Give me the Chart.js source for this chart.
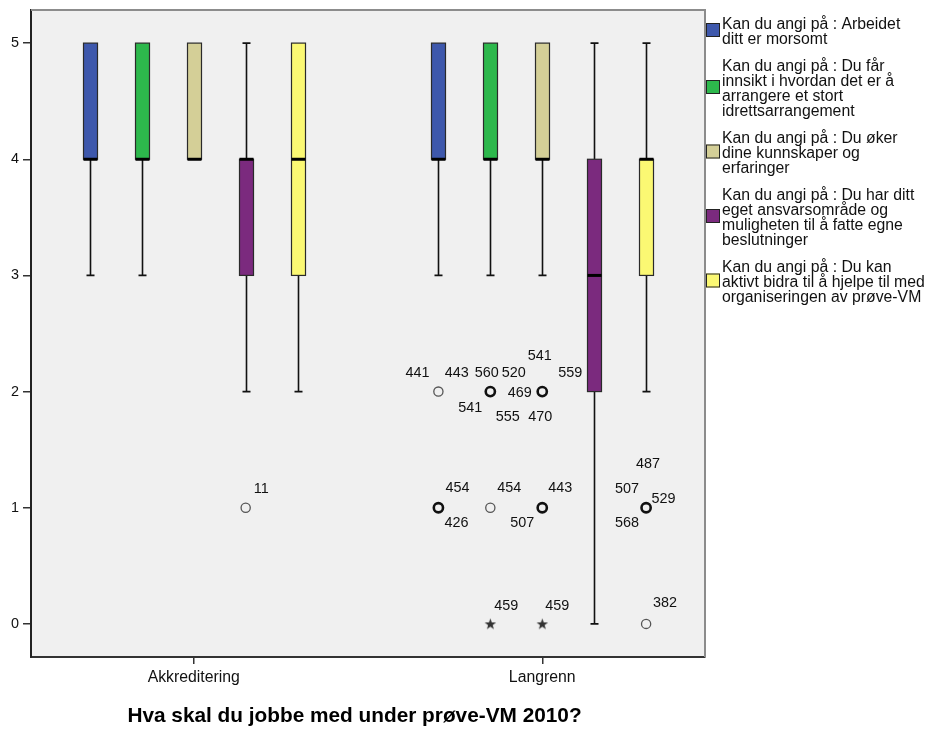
<!DOCTYPE html>
<html><head><meta charset="utf-8">
<script src="https://cdn.jsdelivr.net/npm/chart.js@4/dist/chart.umd.min.js"></script>
<style>html,body{margin:0;padding:0;background:#fff;} #wrap{position:relative;width:931px;height:729px;}</style>
</head><body><div id="wrap"><canvas id="c" width="931" height="729"></canvas></div>
<script>
// ---------- data ----------
const categories = ['Akkreditering', 'Langrenn'];
const yTicks = [0, 1, 2, 3, 4, 5];
const chartTitle = 'Hva skal du jobbe med under prøve-VM 2010?';
const seriesNames = [
  ['Kan du angi på : Arbeidet', 'ditt er morsomt'],
  ['Kan du angi på : Du får', 'innsikt i hvordan det er å', 'arrangere et stort', 'idrettsarrangement'],
  ['Kan du angi på : Du øker', 'dine kunnskaper og', 'erfaringer'],
  ['Kan du angi på : Du har ditt', 'eget ansvarsområde og', 'muligheten til å fatte egne', 'beslutninger'],
  ['Kan du angi på : Du kan', 'aktivt bidra til å hjelpe til med', 'organiseringen av prøve-VM']
];
// five-number summaries [min, q1, median, q3, max] per category
const arbeidet   = [[3, 4, 4, 5, 5], [3, 4, 4, 5, 5]];
const innsikt    = [[3, 4, 4, 5, 5], [3, 4, 4, 5, 5]];
const kunnskaper = [[4, 4, 4, 5, 5], [3, 4, 4, 5, 5]];
const ansvar     = [[2, 3, 4, 4, 5], [0, 2, 3, 4, 5]];
const bidra      = [[2, 3, 4, 5, 5], [2, 3, 4, 4, 5]];
// outliers: [category index, value, case numbers, extreme]
const arbeidetOut   = [[1, 2, ['441'], false], [1, 1, ['454', '426'], false]];
const innsiktOut    = [[1, 2, ['443', '560', '520', '541', '555'], false], [1, 1, ['454'], false], [1, 0, ['459'], true]];
const kunnskaperOut = [[1, 2, ['541', '559', '469', '470'], false], [1, 1, ['443', '507'], false], [1, 0, ['459'], true]];
const ansvarOut     = [[0, 1, ['11'], false]];
const bidraOut      = [[1, 1, ['487', '507', '529', '568'], false], [1, 0, ['382'], false]];

// ---------- style / layout ----------
const stats = [arbeidet, innsikt, kunnskaper, ansvar, bidra];
const outs = [arbeidetOut, innsiktOut, kunnskaperOut, ansvarOut, bidraOut];
const colors = ['#3e58ac', '#2db84c', '#d4cf97', '#7b2a7e', '#fbf873'];
const groupStep = 0.149;
const offsetOf = si => (si - 2) * groupStep;
// label placement (pixel offsets of label centre from point)
const labelOffsets = [
  [[[-21, -19]], [[19, -20], [18, 15]]],
  [[[-33.5, -19], [-3.5, -19], [23.5, -19], [-20, 16], [17.5, 25]], [[19, -20]], [[16, -18]]],
  [[[-2.5, -36], [28, -19], [-22.5, 1], [-2, 25]], [[18, -20], [-20, 15]], [[15, -18]]],
  [[[15.5, -19]]],
  [[[2, -44], [-19, -19], [17.5, -9], [-19, 15]], [[19, -21]]]
];
const FONT = '"Liberation Sans", Arial, sans-serif';

const starImg = document.createElement('canvas');
starImg.width = 13; starImg.height = 13;
(function(){
  const g = starImg.getContext('2d');
  g.fillStyle = '#333';
  g.beginPath();
  for (let k = 0; k < 10; k++) {
    const r = k % 2 === 0 ? 6 : 2.4;
    const a = -Math.PI / 2 + k * Math.PI / 5;
    const px = 6.5 + r * Math.cos(a), py = 6.9 + r * Math.sin(a);
    k === 0 ? g.moveTo(px, py) : g.lineTo(px, py);
  }
  g.closePath(); g.fill();
})();

const datasets = outs.map((o, si) => ({
  label: seriesNames[si].join(' '),
  data: o.map(p => ({ x: p[0] + 1 + offsetOf(si), y: p[1] })),
  pointStyle: c => o[c.dataIndex][3] ? starImg : 'circle',
  pointRadius: 4.6,
  pointBorderWidth: c => o[c.dataIndex][2].length > 1 ? 2.6 : 1.3,
  pointBorderColor: c => o[c.dataIndex][2].length > 1 ? '#111' : '#555',
  pointBackgroundColor: 'rgba(0,0,0,0)',
  showLine: false
}));

const boxPlugin = {
  id: 'boxes',
  beforeDraw(chart) {
    const { ctx, chartArea: a } = chart;
    ctx.save();
    ctx.fillStyle = '#f0f0f0';
    ctx.fillRect(a.left, a.top, a.right - a.left, a.bottom - a.top);
    ctx.restore();
  },
  beforeDatasetsDraw(chart) {
    const { ctx } = chart, xs = chart.scales.x, ys = chart.scales.y;
    ctx.save();
    stats.forEach((s, si) => s.forEach((v, ci) => {
      const cx = Math.round(xs.getPixelForValue(ci + 1 + offsetOf(si))) + 0.5;
      const [mn, q1, md, q3, mx] = v.map(t => ys.getPixelForValue(t));
      const hw = 7, cw = 4;
      ctx.strokeStyle = '#111'; ctx.lineWidth = 1.6;
      ctx.beginPath();
      if (mx < q3 - 0.5) { ctx.moveTo(cx, q3); ctx.lineTo(cx, mx); ctx.moveTo(cx - cw, mx); ctx.lineTo(cx + cw, mx); }
      if (mn > q1 + 0.5) { ctx.moveTo(cx, q1); ctx.lineTo(cx, mn); ctx.moveTo(cx - cw, mn); ctx.lineTo(cx + cw, mn); }
      ctx.stroke();
      ctx.fillStyle = colors[si];
      ctx.fillRect(cx - hw, q3, 2 * hw, q1 - q3);
      ctx.strokeStyle = '#2a2a2a'; ctx.lineWidth = 1.2;
      ctx.strokeRect(cx - hw, q3, 2 * hw, q1 - q3);
      ctx.strokeStyle = '#000'; ctx.lineWidth = 3;
      ctx.beginPath(); ctx.moveTo(cx - hw, md); ctx.lineTo(cx + hw, md); ctx.stroke();
    }));
    ctx.restore();
  },
  afterDraw(chart) {
    const { ctx, chartArea: a } = chart;
    ctx.save();
    // frame top/right
    ctx.strokeStyle = '#8c8c8c'; ctx.lineWidth = 2;
    ctx.beginPath();
    ctx.moveTo(a.left, a.top); ctx.lineTo(a.right, a.top); ctx.lineTo(a.right, a.bottom);
    ctx.stroke();
    // outlier labels
    ctx.fillStyle = '#111';
    ctx.font = '14.4px ' + FONT;
    ctx.textAlign = 'center'; ctx.textBaseline = 'middle';
    outs.forEach((o, si) => {
      const meta = chart.getDatasetMeta(si);
      o.forEach((p, pi) => {
        const el = meta.data[pi];
        p[2].forEach((id, li) => {
          const off = labelOffsets[si][pi][li];
          ctx.fillText(id, el.x + off[0], el.y + off[1]);
        });
      });
    });
    // legend
    const lx = 706, tx = 722, lh = 15, gap = 27;
    let y = 25;
    ctx.font = '15.8px ' + FONT;
    ctx.textAlign = 'left';
    seriesNames.forEach((lines, si) => {
      const sy = y + (lines.length - 1) * lh / 2 - 2.5;
      ctx.fillStyle = colors[si];
      ctx.fillRect(lx, sy - 7, 14, 14);
      ctx.strokeStyle = '#222'; ctx.lineWidth = 1;
      ctx.strokeRect(lx + 0.5, sy - 6.5, 13, 13);
      ctx.fillStyle = '#111';
      lines.forEach((t, li) => ctx.fillText(t, tx, y + li * lh));
      y += (lines.length - 1) * lh + gap;
    });
    // title
    ctx.font = 'bold 20.8px ' + FONT;
    ctx.textAlign = 'center';
    ctx.fillStyle = '#000';
    ctx.fillText(chartTitle, 354.5, 716);
    ctx.restore();
  }
};

new Chart(document.getElementById('c'), {
  type: 'scatter',
  data: { datasets },
  plugins: [boxPlugin],
  options: {
    responsive: false,
    animation: false,
    events: [],
    layout: { padding: { left: 0, top: 10, right: 226, bottom: 0 } },
    plugins: { legend: { display: false }, tooltip: { enabled: false }, title: { display: false } },
    scales: {
      x: {
        type: 'linear', min: 0.533, max: 2.467,
        afterBuildTicks: s => { s.ticks = categories.map((c, i) => ({ value: i + 1 })); },
        afterFit: s => { s.height = 72; s.paddingLeft = 0; s.paddingRight = 0; },
        ticks: { callback: (v, i) => categories[i], color: '#111', font: { family: FONT, size: 15.8 }, padding: 4, autoSkip: false, maxRotation: 0 },
        grid: { drawOnChartArea: false, drawTicks: true, tickLength: 7, color: '#333', lineWidth: 1.5 },
        border: { display: true, color: '#333', width: 2 }
      },
      y: {
        type: 'linear', min: -0.285, max: 5.285,
        afterBuildTicks: s => { s.ticks = yTicks.map(v => ({ value: v })); },
        afterFit: s => { s.width = 31; s.paddingTop = 0; s.paddingBottom = 0; },
        ticks: { color: '#111', font: { family: FONT, size: 14.4 }, padding: 4 },
        grid: { drawOnChartArea: false, drawTicks: true, tickLength: 8, color: '#333', lineWidth: 1.5 },
        border: { display: true, color: '#222', width: 2 }
      }
    }
  }
});
</script>
</body></html>
